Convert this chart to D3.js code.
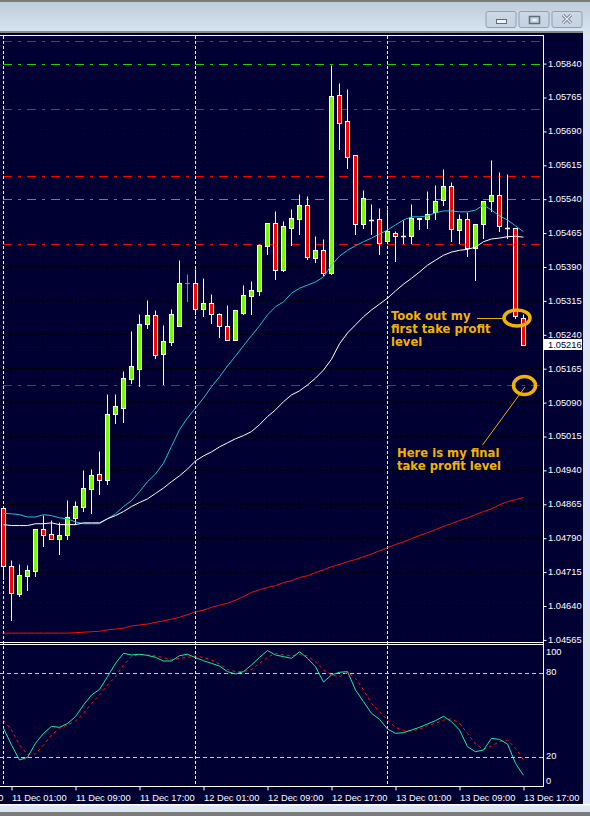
<!DOCTYPE html>
<html><head><meta charset="utf-8">
<script src="https://cdnjs.cloudflare.com/ajax/libs/d3/7.8.5/d3.min.js"></script>
<style>html,body{margin:0;padding:0;background:#dce7f3;overflow:hidden}svg{display:block}</style>
</head><body><svg id="c" width="590" height="816"></svg>
<script>
const opens=[1.04855,1.04727,1.04665,1.04705,1.04716,1.04809,1.04798,1.04787,1.04796,1.04833,
1.04857,1.04897,1.04930,1.04917,1.05063,1.05078,1.05142,1.05164,1.05262,1.05282,
1.05197,1.05222,1.05258,1.05354,1.05354,1.05295,1.05310,1.05286,1.05258,1.05227,
1.05288,1.05324,1.05335,1.05435,1.05487,1.05383,1.05476,1.05496,1.05527,1.05409,
1.05427,1.05376,1.05769,1.05713,1.05637,1.05485,1.05492,1.05494,1.05446,1.05465,
1.05458,1.05457,1.05498,1.05494,1.05510,1.05538,1.05569,1.05470,1.05496,1.05432,
1.05483,1.05534,1.05549,1.05476,1.05476,1.05277];
const highs=[1.04855,1.04740,1.04731,1.04729,1.04809,1.04840,1.04829,1.04824,1.04873,1.04871,
1.04939,1.04943,1.04981,1.05107,1.05107,1.05158,1.05247,1.05286,1.05315,1.05293,
1.05260,1.05297,1.05405,1.05374,1.05385,1.05365,1.05330,1.05288,1.05304,1.05293,
1.05350,1.05357,1.05439,1.05487,1.05512,1.05490,1.05518,1.05551,1.05547,1.05457,
1.05450,1.05835,1.05797,1.05782,1.05637,1.05560,1.05529,1.05520,1.05518,1.05468,
1.05492,1.05529,1.05498,1.05558,1.05571,1.05606,1.05578,1.05507,1.05510,1.05485,
1.05534,1.05626,1.05600,1.05595,1.05476,1.05284];
const lows=[1.04698,1.04609,1.04661,1.04674,1.04705,1.04772,1.04787,1.04753,1.04787,1.04820,
1.04849,1.04844,1.04886,1.04908,1.05043,1.05045,1.05133,1.05125,1.05253,1.05188,
1.05129,1.05216,1.05258,1.05313,1.05284,1.05280,1.05266,1.05233,1.05227,1.05227,
1.05286,1.05284,1.05328,1.05418,1.05363,1.05379,1.05437,1.05463,1.05407,1.05401,
1.05372,1.05374,1.05651,1.05608,1.05461,1.05476,1.05461,1.05418,1.05446,1.05403,
1.05441,1.05443,1.05474,1.05476,1.05494,1.05527,1.05446,1.05443,1.05414,1.05361,
1.05452,1.05512,1.05468,1.05452,1.05277,1.05216];
const closes=[1.04727,1.04667,1.04707,1.04718,1.04809,1.04796,1.04787,1.04796,1.04835,1.04860,
1.04899,1.04928,1.04917,1.05063,1.05081,1.05144,1.05169,1.05262,1.05282,1.05195,
1.05225,1.05286,1.05354,1.05354,1.05295,1.05310,1.05284,1.05258,1.05227,1.05293,
1.05326,1.05339,1.05437,1.05487,1.05383,1.05479,1.05498,1.05527,1.05412,1.05427,
1.05376,1.05767,1.05708,1.05633,1.05485,1.05542,1.05492,1.05443,1.05468,1.05457,
1.05458,1.05498,1.05494,1.05507,1.05536,1.05569,1.05472,1.05496,1.05432,1.05483,
1.05534,1.05549,1.05479,1.05476,1.05280,1.05216];
const greenCross=[23];
const maFast=[1.04845,1.04844,1.04842,1.04837,1.04837,1.04842,1.04840,1.04835,1.04833,1.04826,
1.04822,1.04822,1.04822,1.04833,1.04844,1.04860,1.04873,1.04893,1.04915,1.04932,
1.04956,1.04993,1.05030,1.05056,1.05078,1.05100,1.05125,1.05147,1.05171,1.05193,
1.05216,1.05238,1.05260,1.05284,1.05302,1.05313,1.05332,1.05343,1.05350,1.05357,
1.05368,1.05394,1.05414,1.05427,1.05437,1.05446,1.05454,1.05463,1.05472,1.05483,
1.05494,1.05501,1.05501,1.05503,1.05510,1.05514,1.05514,1.05512,1.05512,1.05516,
1.05527,1.05516,1.05503,1.05494,1.05481,1.05468];
const maMid=[1.04820,1.04818,1.04818,1.04818,1.04822,1.04822,1.04824,1.04820,1.04820,1.04820,
1.04824,1.04824,1.04824,1.04833,1.04840,1.04849,1.04860,1.04869,1.04877,1.04889,
1.04901,1.04915,1.04928,1.04943,1.04961,1.04972,1.04981,1.04992,1.05001,1.05010,
1.05017,1.05026,1.05041,1.05059,1.05074,1.05092,1.05107,1.05116,1.05129,1.05144,
1.05162,1.05186,1.05220,1.05244,1.05262,1.05280,1.05295,1.05308,1.05321,1.05337,
1.05352,1.05365,1.05379,1.05394,1.05405,1.05416,1.05423,1.05427,1.05429,1.05434,
1.05446,1.05452,1.05454,1.05457,1.05458,1.05456];
const maSlow=[1.04580,1.04580,1.04580,1.04580,1.04580,1.04580,1.04580,1.04580,1.04580,1.04581,
1.04582,1.04583,1.04584,1.04587,1.04589,1.04591,1.04596,1.04598,1.04600,1.04604,
1.04607,1.04611,1.04615,1.04621,1.04627,1.04631,1.04637,1.04642,1.04646,1.04653,
1.04661,1.04670,1.04676,1.04681,1.04685,1.04692,1.04696,1.04703,1.04707,1.04714,
1.04720,1.04727,1.04732,1.04738,1.04743,1.04749,1.04755,1.04762,1.04769,1.04776,
1.04782,1.04789,1.04796,1.04802,1.04809,1.04816,1.04822,1.04829,1.04835,1.04842,
1.04849,1.04855,1.04864,1.04871,1.04875,1.04880];
const stochMain=[40.7,28.8,18.1,20.0,30.0,37.1,42.1,41.4,44.2,49.0,57.4,64.5,68.5,77.6,87.1,94.3,93.1,93.6,92.8,91.4,
88.8,88.8,92.6,93.6,91.2,89.0,87.1,85.2,81.2,79.5,81.2,85.9,91.4,96.2,93.1,91.9,90.7,95.4,90.7,84.7,
73.8,78.8,80.7,81.2,68.1,59.7,51.4,47.1,40.2,37.1,37.6,39.5,41.4,43.8,46.2,49.3,45.4,39.5,27.6,24.0,
25.2,33.5,32.8,29.5,15.7,7.1];
const stochSignal=[46.6,39.5,28.8,22.1,22.4,28.8,35.9,40.7,43.1,45.9,51.4,58.5,64.5,71.6,77.6,85.9,91.9,93.6,93.1,92.4,
91.2,89.5,90.7,91.4,92.4,91.2,89.5,86.6,82.8,81.2,81.2,82.8,87.1,91.4,94.3,93.1,92.6,93.3,92.4,88.3,
82.4,78.8,77.6,80.7,76.4,68.1,58.5,52.6,46.6,41.4,39.0,39.0,40.0,42.6,44.3,46.6,47.4,44.3,37.1,29.5,
25.7,28.1,31.2,32.4,26.4,18.1];
const priceTicks=[1.0584,1.05765,1.0569,1.05615,1.0554,1.05465,1.0539,1.05315,1.0524,1.05165,1.0509,1.05015,1.0494,1.04865,1.0479,1.04715,1.0464,1.04565];
const levelPrices=[1.05889,1.05839,1.05739,1.05591,1.05540,1.05440,1.05128];
const levelColors=["#c81414","#22cc00","#d81414","#ff0000","#2fb040","#ff0000","#c81414"];
const oscTicks=[100,80,20,0];
const oscLevels=[80,20];
const timeLabels=["10 Dec 17:00","11 Dec 01:00","11 Dec 09:00","11 Dec 17:00","12 Dec 01:00","12 Dec 09:00","12 Dec 17:00","13 Dec 01:00","13 Dec 09:00","13 Dec 17:00"];
const timeTicks=[Date.UTC(2013,11,10,17),Date.UTC(2013,11,11,1),Date.UTC(2013,11,11,9),Date.UTC(2013,11,11,17),Date.UTC(2013,11,12,1),Date.UTC(2013,11,12,9),Date.UTC(2013,11,12,17),Date.UTC(2013,11,13,1),Date.UTC(2013,11,13,9),Date.UTC(2013,11,13,17)];
const separators=[Date.UTC(2013,11,11,0),Date.UTC(2013,11,12,0),Date.UTC(2013,11,13,0)];
const lastPrice=1.05216;
const note1=["Took out my","first take profit","level"];
const note2=["Here is my final","take profit level"];

const t0=Date.UTC(2013,11,11,0);
const hour=3600000;
const times=opens.map((_,i)=>t0+i*hour);
const svg=d3.select("#c");
const navy="#000033", amber="#f0b400";
const x=d3.scaleUtc().domain([t0,t0+65*hour]).range([3.5,523.5]);
const y=d3.scaleLinear().domain([1.05765,1.04565]).range([97.5,639.9]);
const osc=d3.scaleLinear().domain([0,100]).range([785.3,645.3]);
const crisp=v=>Math.floor(v)+.5;
const plotR=543, paneTop=35, paneBot=786;

// window chrome
const defs=svg.append("defs");
const g1=defs.append("linearGradient").attr("id","bar").attr("x1",0).attr("y1",0).attr("x2",0).attr("y2",1);
g1.append("stop").attr("offset",0).attr("stop-color","#bccbd9");
g1.append("stop").attr("offset",1).attr("stop-color","#d8e5f2");
const g2=defs.append("linearGradient").attr("id","btn").attr("x1",0).attr("y1",0).attr("x2",0).attr("y2",1);
g2.append("stop").attr("offset",0).attr("stop-color","#ccd8e3");
g2.append("stop").attr("offset",1).attr("stop-color","#c4d2e0");
svg.append("rect").attr("width",590).attr("height",816).attr("fill","#dce7f3");
svg.append("rect").attr("width",590).attr("height",33).attr("fill","url(#bar)");
svg.append("rect").attr("width",590).attr("height",2).attr("fill","#7d7d78");
svg.append("rect").attr("y",31).attr("width",583).attr("height",2).attr("fill","#85888c");
svg.append("rect").attr("y",33).attr("width",583).attr("height",771).attr("fill",navy);
svg.append("rect").attr("y",804).attr("width",590).attr("height",1.5).attr("fill","#ffffff");
svg.append("rect").attr("y",812).attr("width",590).attr("height",4).attr("fill","#7b7b7b");
[486,519,552].forEach(b=>svg.append("rect").attr("x",b-.5+.5).attr("y",11.5).attr("width",30).attr("height",16).attr("rx",2).attr("fill","url(#btn)").attr("stroke","#8da0b5"));
svg.append("rect").attr("x",496.5).attr("y",19.5).attr("width",10).attr("height",4).attr("fill","#eef3f8").attr("stroke","#5f6b78");
svg.append("rect").attr("x",529.5).attr("y",16.5).attr("width",10).attr("height",7).attr("fill","none").attr("stroke","#5f6b78").attr("stroke-width",1.5);
svg.append("rect").attr("x",532.5).attr("y",19).attr("width",4).attr("height",2).attr("fill","#eef3f8");
svg.append("path").attr("d","M563 15L571 23M571 15L563 23").attr("stroke","#5f6b78").attr("stroke-width",3);
svg.append("path").attr("d","M563 15L571 23M571 15L563 23").attr("stroke","#e8eef5").attr("stroke-width",1.4);

// grid
const grid=svg.append("g").attr("stroke","#000").attr("stroke-width",1).attr("stroke-dasharray","3 2");
priceTicks.slice(1).forEach(p=>grid.append("line").attr("x1",0).attr("x2",plotR).attr("y1",crisp(y(p))).attr("y2",crisp(y(p))));
d3.range(-1,17).forEach(k=>{
  const gx=x(t0+hour+k*4*hour);
  grid.append("line").attr("x1",gx).attr("x2",gx).attr("y1",36).attr("y2",642);
  grid.append("line").attr("x1",gx).attr("x2",gx).attr("y1",645).attr("y2",paneBot);
});
svg.append("line").attr("x1",0).attr("x2",plotR).attr("y1",crisp(y(lastPrice))).attr("y2",crisp(y(lastPrice))).attr("stroke","#000");

// levels
levelPrices.forEach((p,i)=>svg.append("line").attr("x1",3).attr("x2",541).attr("y1",crisp(y(p))).attr("y2",crisp(y(p))).attr("stroke",levelColors[i]).attr("stroke-width",1).attr("stroke-dasharray","9 6 3 6"));

// separators
separators.forEach(s=>svg.append("line").attr("x1",x(s)).attr("x2",x(s)).attr("y1",36).attr("y2",paneBot).attr("stroke","#fff").attr("stroke-dasharray","3 2"));

// candles
const cg=svg.append("g");
times.forEach((t,i)=>{
  const cx=x(t), top=Math.max(opens[i],closes[i]), bot=Math.min(opens[i],closes[i]);
  const isCross=greenCross.includes(i);
  const wc=isCross?"#22cc44":"#fff";
  cg.append("line").attr("x1",cx).attr("x2",cx).attr("y1",crisp(y(highs[i]))).attr("y2",crisp(y(lows[i]))+.5).attr("stroke",wc);
  if(opens[i]===closes[i]){
    cg.append("line").attr("x1",cx-2.5).attr("x2",cx+2.5).attr("y1",crisp(y(top))).attr("y2",crisp(y(top))).attr("stroke",wc).attr("stroke-width",isCross?1:1.5);
  } else {
    cg.append("rect").attr("x",cx-2).attr("width",4).attr("y",crisp(y(top))).attr("height",Math.max(1,crisp(y(bot))-crisp(y(top))))
      .attr("fill",closes[i]>opens[i]?"#7cf800":"#ff0000").attr("stroke","#fff").attr("stroke-width",1);
  }
});

// moving averages
const ln=d3.line().x((d,i)=>x(times[i])).y(d=>y(d)).curve(d3.curveLinear);
svg.append("path").attr("d",ln(maFast)).attr("fill","none").attr("stroke","#20c4d0").attr("stroke-width",1);
svg.append("path").attr("d",ln(maMid)).attr("fill","none").attr("stroke","#fff").attr("stroke-width",1);
svg.append("path").attr("d",ln(maSlow)).attr("fill","none").attr("stroke","#f01010").attr("stroke-width",1);

// oscillator
svg.append("rect").attr("x",0).attr("y",642).attr("width",plotR).attr("height",1).attr("fill","#fff");
svg.append("rect").attr("x",0).attr("y",644).attr("width",plotR).attr("height",1).attr("fill","#fff");
oscLevels.forEach(v=>svg.append("line").attr("x1",0).attr("x2",plotR).attr("y1",crisp(osc(v))).attr("y2",crisp(osc(v))).attr("stroke","#c8c8d8").attr("stroke-dasharray","4 3"));
const oln=d3.line().x((d,i)=>x(times[i])).y(d=>osc(d));
svg.append("path").attr("d",oln(stochSignal)).attr("fill","none").attr("stroke","#ff1010").attr("stroke-dasharray","3 3");
svg.append("path").attr("d",oln(stochMain)).attr("fill","none").attr("stroke","#18f0a0");

// frame
svg.append("rect").attr("x",0).attr("y",paneTop).attr("width",plotR+1).attr("height",1).attr("fill","#fff");
svg.append("rect").attr("x",0).attr("y",paneBot).attr("width",plotR+1).attr("height",1).attr("fill","#fff");
svg.append("rect").attr("x",plotR-.5+.5).attr("y",paneTop).attr("width",1).attr("height",paneBot-paneTop+1).attr("fill","#fff");

// axes
const font="'Liberation Sans',sans-serif", fs="9.3px";
const yAxis=d3.axisRight(y).tickValues(priceTicks).tickSize(3).tickPadding(2).tickFormat(d3.format(".5f"));
const ya=svg.append("g").attr("transform",`translate(${plotR+.5},0)`).call(yAxis);
ya.select(".domain").remove();
ya.selectAll("line").attr("stroke","#fff");
ya.selectAll("text").attr("fill","#fff").attr("font-family",font).attr("font-size",fs).attr("y",-.5).attr("x",4.5);
const xAxis=d3.axisBottom(x).tickValues(timeTicks).tickSize(4).tickFormat((d,i)=>timeLabels[i]);
const xa=svg.append("g").attr("transform",`translate(0,${paneBot+.5})`).call(xAxis);
xa.select(".domain").remove();
xa.selectAll("line").attr("stroke","#fff");
xa.selectAll("text").attr("fill","#fff").attr("font-family",font).attr("font-size",fs).attr("text-anchor","start").attr("y",8);
oscTicks.forEach(v=>svg.append("text").attr("x",546).attr("y",osc(v)+(v===100?9.5:v===0?-1.5:2)).attr("fill","#fff").attr("font-family",font).attr("font-size",fs).text(v));

// last price tag
svg.append("rect").attr("x",544).attr("y",339).attr("width",38).attr("height",11).attr("fill","#fff");
svg.append("text").attr("x",548).attr("y",348).attr("fill","#000033").attr("font-family",font).attr("font-size",fs).text(d3.format(".5f")(lastPrice));

// annotations
svg.append("ellipse").attr("cx",517).attr("cy",318).attr("rx",13).attr("ry",8).attr("fill","none").attr("stroke",amber).attr("stroke-width",3.5);
svg.append("ellipse").attr("cx",524.5).attr("cy",385.5).attr("rx",11).attr("ry",9).attr("fill","none").attr("stroke",amber).attr("stroke-width",3.5);
svg.append("line").attr("x1",477).attr("x2",503).attr("y1",318.5).attr("y2",318.5).attr("stroke",amber);
svg.append("line").attr("x1",525).attr("y1",387).attr("x2",482.5).attr("y2",445).attr("stroke",amber);
const nf="'DejaVu Sans',sans-serif";
note1.forEach((s,i)=>svg.append("text").attr("x",391).attr("y",320+i*13).attr("fill",amber).attr("font-family",nf).attr("font-weight","bold").attr("font-size","11.6px").text(s));
note2.forEach((s,i)=>svg.append("text").attr("x",397).attr("y",457+i*12.5).attr("fill",amber).attr("font-family",nf).attr("font-weight","bold").attr("font-size","11.6px").text(s));
</script></body></html>
